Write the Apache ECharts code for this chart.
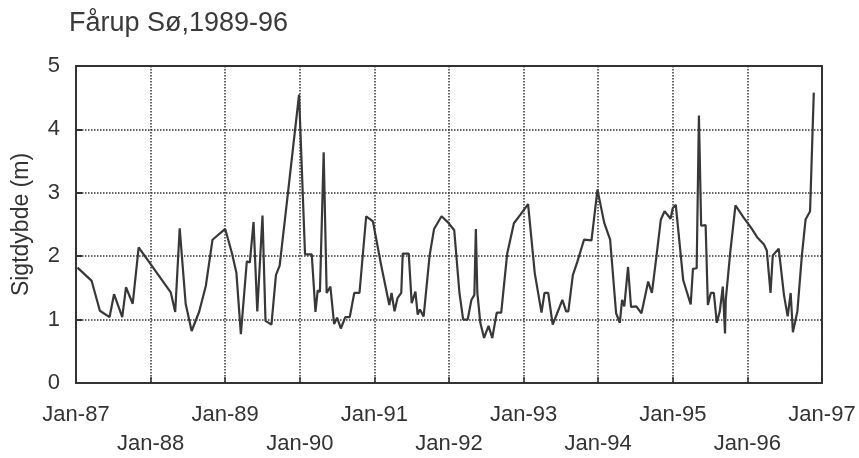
<!DOCTYPE html>
<html>
<head>
<meta charset="utf-8">
<script src="https://cdn.jsdelivr.net/npm/echarts@6/dist/echarts.min.js"></script>
<style>html,body{margin:0;padding:0;background:#fff}#c{width:859px;height:458px}</style>
</head>
<body>
<div id="c"></div>
<script>
const titleText = 'Fårup Sø,1989-96';
const yAxisName = 'Sigtdybde (m)';
const yearTicks = [1987, 1988, 1989, 1990, 1991, 1992, 1993, 1994, 1995, 1996, 1997];
const sampleTimes = [
  1987.02, 1987.21, 1987.32, 1987.45, 1987.51, 1987.62, 1987.67, 1987.76, 1987.84,
  1988.27, 1988.33, 1988.39, 1988.47, 1988.55, 1988.65, 1988.74, 1988.83,
  1989.00, 1989.09, 1989.15, 1989.21, 1989.29, 1989.33, 1989.38, 1989.43, 1989.50, 1989.54, 1989.62, 1989.68, 1989.73, 1989.85,
  1989.99, 1990.07, 1990.16, 1990.21, 1990.24, 1990.27, 1990.32, 1990.36, 1990.41, 1990.46, 1990.50, 1990.55, 1990.61, 1990.67, 1990.73, 1990.80, 1990.89, 1990.98,
  1991.09, 1991.20, 1991.23, 1991.27, 1991.31, 1991.36, 1991.38, 1991.46, 1991.50, 1991.55, 1991.58, 1991.61, 1991.66, 1991.74, 1991.80, 1991.90, 1991.99,
  1992.07, 1992.14, 1992.19, 1992.25, 1992.30, 1992.34, 1992.36, 1992.38, 1992.42, 1992.47, 1992.53, 1992.58, 1992.64, 1992.70, 1992.78, 1992.87, 1992.96,
  1993.06, 1993.15, 1993.24, 1993.28, 1993.33, 1993.39, 1993.45, 1993.52, 1993.57, 1993.60, 1993.66, 1993.72, 1993.81, 1993.91,
  1993.99, 1994.08, 1994.16, 1994.24, 1994.29, 1994.32, 1994.35, 1994.40, 1994.44, 1994.51, 1994.58, 1994.67, 1994.72, 1994.78, 1994.84, 1994.89, 1994.97,
  1995.00, 1995.04, 1995.14, 1995.24, 1995.27, 1995.32, 1995.35, 1995.38, 1995.44, 1995.47, 1995.51, 1995.55, 1995.59, 1995.63, 1995.67, 1995.70, 1995.71, 1995.77, 1995.84, 1995.95,
  1996.06, 1996.13, 1996.22, 1996.26, 1996.31, 1996.34, 1996.42, 1996.49, 1996.54, 1996.58, 1996.61, 1996.67, 1996.73, 1996.78, 1996.84, 1996.89
];
const secchiDepth = [
  1.82, 1.61, 1.14, 1.04, 1.40, 1.04, 1.51, 1.25, 2.14,
  1.43, 1.12, 2.44, 1.25, 0.82, 1.12, 1.53, 2.26,
  2.43, 2.05, 1.74, 0.77, 1.92, 1.90, 2.54, 1.13, 2.64, 0.98, 0.92, 1.70, 1.85, 3.09,
  4.55, 2.03, 2.03, 1.12, 1.46, 1.44, 3.64, 1.42, 1.52, 0.93, 1.03, 0.86, 1.04, 1.04, 1.42, 1.42, 2.63, 2.55,
  1.86, 1.23, 1.42, 1.13, 1.34, 1.42, 2.04, 2.04, 1.26, 1.44, 1.08, 1.16, 1.05, 2.01, 2.43, 2.63, 2.53,
  2.41, 1.42, 1.00, 1.00, 1.31, 1.39, 2.43, 1.42, 0.95, 0.71, 0.90, 0.71, 1.11, 1.11, 2.04, 2.52, 2.66,
  2.82, 1.73, 1.11, 1.42, 1.42, 0.92, 1.10, 1.31, 1.13, 1.13, 1.70, 1.91, 2.26, 2.25,
  3.05, 2.53, 2.26, 1.10, 0.95, 1.31, 1.21, 1.83, 1.20, 1.21, 1.10, 1.60, 1.42, 1.99, 2.58, 2.71, 2.59,
  2.76, 2.81, 1.62, 1.24, 1.80, 1.81, 4.22, 2.48, 2.49, 1.23, 1.42, 1.42, 0.95, 1.13, 1.52, 0.78, 1.31, 2.06, 2.80, 2.61,
  2.43, 2.30, 2.19, 2.09, 1.42, 2.01, 2.12, 1.39, 1.05, 1.42, 0.80, 1.13, 2.01, 2.58, 2.71, 4.58
];

const ink = '#333333';
const font = '"Liberation Sans", Arial, sans-serif';
const chart = echarts.init(document.getElementById('c'));
chart.setOption({
  backgroundColor: '#ffffff',
  animation: false,
  title: {
    text: titleText, left: 69, top: 10, padding: 0,
    textStyle: { fontFamily: font, fontSize: 27, fontWeight: 'normal', color: '#3a3a3a' }
  },
  grid: { left: 76, right: 37, top: 66, bottom: 68, show: true, borderColor: ink, borderWidth: 2, backgroundColor: 'transparent' },
  xAxis: {
    type: 'value', min: yearTicks[0], max: yearTicks[yearTicks.length - 1], interval: 1,
    axisLine: { show: true, onZero: false, lineStyle: { color: ink, width: 2 } },
    axisTick: { show: true, inside: true, length: 6, lineStyle: { color: ink, width: 1.5 } },
    splitLine: { show: true, lineStyle: { color: ink, width: 1.5, type: [1.5, 1.5] } },
    axisLabel: {
      margin: 17, fontFamily: font, fontSize: 22, color: ink, lineHeight: 29,
      showMinLabel: true, showMaxLabel: true,
      formatter: function (v) {
        const y = Math.round(v);
        const lab = 'Jan-' + String(y % 100).padStart(2, '0');
        return ((y - yearTicks[0]) % 2 === 1) ? '\n' + lab : lab;
      }
    }
  },
  yAxis: {
    type: 'value', min: 0, max: 5, interval: 1,
    name: yAxisName, nameLocation: 'middle', nameRotate: 90, nameGap: 43,
    nameTextStyle: { fontFamily: font, fontSize: 23, color: ink },
    axisLine: { show: true, lineStyle: { color: ink, width: 2 } },
    axisTick: { show: true, inside: true, length: 6, lineStyle: { color: ink, width: 2 } },
    splitLine: { show: true, lineStyle: { color: ink, width: 1.5, type: [1.5, 1.5] } },
    axisLabel: { margin: 16, fontFamily: font, fontSize: 22, color: ink }
  },
  series: [{
    type: 'line',
    data: sampleTimes.map((t, i) => [t, secchiDepth[i]]),
    showSymbol: false,
    lineStyle: { color: '#383838', width: 2.2 },
    itemStyle: { color: '#383838' }
  }]
});
</script>
</body>
</html>
